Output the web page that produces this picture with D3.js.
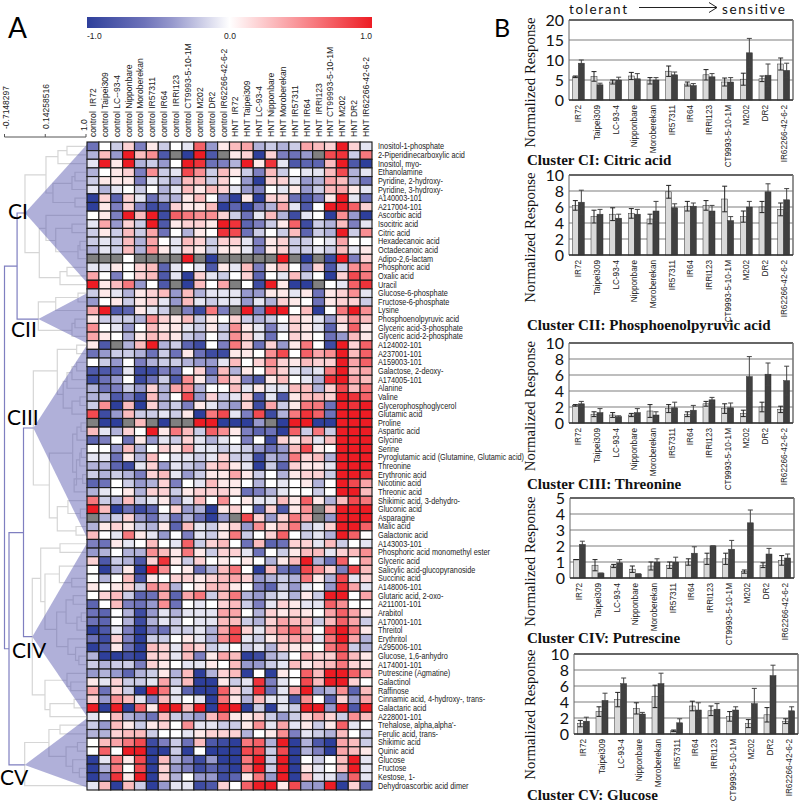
<!DOCTYPE html>
<html><head><meta charset="utf-8">
<script src="https://cdn.jsdelivr.net/npm/d3@7/dist/d3.min.js"></script>
<style>html,body{margin:0;padding:0;background:#fff}svg{display:block}text{white-space:pre}</style>
</head><body><svg id="c" width="800" height="802"></svg>
<script>
const G = null;
const columnLabels = ["control  IR72","control Taipei309","control LC--93-4","control Nipponbare","control Moroberekan","control IR57311","control IR64","control  IRRI123","control CT9993-5-10-1M","control M202","control DR2","control IR62266-42-6-2","HNT  IR72","HNT Taipei309","HNT LC-93-4","HNT Nipponbare","HNT Moroberekan","HNT IR57311","HNT IR64","HNT  IRRI123","HNT CT99993-5-10-1M","HNT M202","HNT DR2","HNT IR62266-42-6-2"];
const rowLabels = ["Inositol-1-phosphate","2-Piperidinecarboxylic acid","Inositol, myo-","Ethanolamine","Pyridine, 2-hydroxy-","Pyridine, 3-hydroxy-","A140003-101","A217004-101","Ascorbic acid","Isocitric acid","Citric acid","Hexadecanoic acid","Octadecanoic acid","Adipo-2,6-lactam","Phosphoric acid","Oxalic acid","Uracil","Glucose-6-phosphate","Fructose-6-phosphate","Lysine","Phosphoenolpyruvic acid","Glyceric acid-3-phosphate","Glyceric acid-2-phosphate","A124002-101","A237001-101","A159003-101","Galactose, 2-deoxy-","A174005-101","Alanine","Valine","Glycerophosphoglycerol","Glutamic acid","Proline","Aspartic acid","Glycine","Serine","Pyroglutamic acid (Glutamine, Glutamic acid)","Threonine","Erythronic acid","Nicotinic acid","Threonic acid","Shikimic acid, 3-dehydro-","Gluconic acid","Asparagine","Malic acid","Galactonic acid","A143003-101","Phosphoric acid monomethyl ester","Glyceric acid","Salicylic acid-glucopyranoside","Succinic acid","A148006-101","Glutaric acid, 2-oxo-","A211001-101","Arabitol","A170001-101","Threitol","Erythritol","A295006-101","Glucose, 1,6-anhydro","A174001-101","Putrescine (Agmatine)","Galactinol","Raffinose","Cinnamic acid, 4-hydroxy-, trans-","Galactaric acid","A228001-101","Trehalose, alpha,alpha'-","Ferulic acid, trans-","Shikimic acid","Quinic acid","Glucose","Fructose","Kestose, 1-","Dehydroascorbic acid dimer"];
// heat values in tenths, -10..10; G = missing (grey)
const heatRows = [
[-6,0,-2,2,-5,1,-2,0,-1,7,-4,1,3,4,-3,-2,-3,-2,4,3,2,10,2,-1],
[-3,3,-4,10,3,5,-8,G,-10,10,-8,G,1,2,-10,2,-5,-6,-4,G,8,9,-2,6],
[-1,10,1,10,-3,-2,-4,0,10,9,-6,-5,-3,10,1,9,-1,-8,-7,-7,3,10,-8,-10],
[-3,0,1,2,-5,5,-2,-1,8,5,-2,3,1,-2,-5,3,-2,0,-1,-1,3,8,-3,-1],
[-2,1,1,1,-5,-1,-2,-3,3,3,-2,2,0,-4,-10,2,2,-1,-4,-3,4,3,-3,-6],
[-1,-3,-1,0,-2,0,-3,-1,3,1,3,2,-1,-4,-5,0,-1,1,-4,-2,3,4,1,-1],
[-10,2,-7,2,-1,-6,-3,-3,1,3,0,-5,-10,1,-10,2,2,-6,-8,-5,1,10,-1,-6],
[-10,1,-5,2,-5,-9,-8,2,1,1,3,-10,-7,-10,-5,-3,4,-1,-8,0,10,10,7,2],
[0,1,-5,10,3,10,-9,7,6,5,5,2,-2,-6,-1,3,-3,-9,-1,0,-10,5,-4,-10],
[-1,4,-4,2,-2,10,-8,1,2,2,1,10,9,-7,-5,-2,1,7,-9,-2,-3,3,-5,-1],
[-2,1,-2,3,-2,4,-6,0,-3,1,0,9,8,-6,-2,0,-2,3,-7,-2,-3,10,-2,5],
[-2,-1,-2,3,-3,4,0,-1,3,2,-2,2,2,-1,-5,1,2,-2,-2,0,-1,4,0,0],
[-3,-1,-2,3,-3,5,1,-1,2,1,-2,1,1,-1,-5,1,2,-2,-2,-1,-2,3,-1,1],
[G,G,G,0,G,G,G,G,10,G,-10,G,G,G,G,G,10,G,-10,G,-9,10,-5,2],
[-1,-1,1,0,2,3,-7,-1,0,-1,-8,1,-1,3,-5,1,3,0,-5,2,-8,-2,5,5],
[4,0,-5,0,2,3,-8,-1,-10,2,-1,-2,0,2,-7,0,-1,3,-2,0,-10,2,8,6],
[10,1,3,6,-4,0,-8,G,-10,3,0,4,G,0,-9,10,1,-10,-10,G,0,-1,7,9],
[-2,1,-1,-3,1,2,3,-4,3,-3,-1,-1,-1,-4,-4,1,1,-1,1,-6,1,2,5,-1],
[-4,0,1,-2,1,2,-1,-4,3,-1,-2,-1,-1,-4,-1,-3,2,1,0,-6,1,2,2,-2],
[4,10,-8,-7,1,-1,-2,G,-5,-9,6,-5,G,10,-5,10,10,0,3,-10,0,6,10,5],
[1,-2,-2,-2,-3,5,2,1,3,-2,1,0,2,-2,-3,-2,0,2,1,-1,-4,2,5,3],
[5,0,-1,-4,0,3,1,1,-1,-2,1,-2,5,1,-1,-5,-1,2,1,-1,-7,1,7,1],
[4,1,0,-3,1,3,2,1,-2,-3,0,-2,5,2,-1,-6,0,2,1,0,-6,-4,3,1],
[1,-8,G,-3,3,10,-3,-2,-7,-9,0,-5,6,2,-6,2,-4,1,6,0,-9,10,2,7],
[-6,-4,-2,-2,-3,-6,-2,-6,1,-6,-9,-9,1,1,0,5,8,0,7,4,5,10,3,7],
[0,-2,-4,0,-5,-3,-2,-2,-3,-4,-4,-1,3,0,2,5,2,1,3,2,2,10,4,7],
[-8,-8,-7,-1,-9,-9,-5,-6,0,2,-6,3,-3,1,0,4,2,-1,-2,-1,6,10,3,4],
[-9,-6,-4,0,-9,-6,-2,-8,5,1,-4,4,2,-5,-8,1,3,0,-1,-3,9,10,4,3],
[-3,-6,-5,-2,-4,2,-3,4,5,-3,0,0,3,-1,1,-1,-1,3,3,-3,2,8,3,6],
[-3,-3,-8,-5,-9,3,-3,0,8,-4,2,-2,-1,2,-8,-1,-8,1,3,3,2,10,9,7],
[-2,5,-10,3,-10,2,-3,-2,-5,1,-1,-3,-4,2,-9,4,-2,1,6,6,-6,10,9,10],
[8,-9,-4,3,-2,-2,-1,-2,1,-10,6,8,-1,-5,8,-9,-3,6,9,7,-6,10,10,10],
[G,-10,-10,G,3,G,-10,G,G,10,10,-10,-10,-10,-4,G,-10,10,10,-10,-10,10,10,10],
[3,-1,-3,2,0,10,1,6,3,-2,7,5,1,-5,-7,-6,-10,7,-2,6,-2,10,10,10],
[-7,-5,0,-6,1,-4,-1,-2,2,-1,-3,-1,0,-5,0,-9,2,1,3,-1,3,10,10,10],
[0,0,-4,3,-3,0,2,1,4,-1,-1,-2,-1,-2,-4,-6,-4,3,8,1,0,10,10,10],
[-1,-1,-6,1,-3,3,0,-1,-1,-2,-1,2,-2,-2,-9,-3,-4,6,2,3,-3,10,10,10],
[-3,-3,-7,-9,-1,2,-4,-1,-2,-3,2,3,1,-1,-10,-2,-7,2,1,1,-1,10,10,10],
[-2,-3,-2,-3,-5,2,3,-1,-4,-2,1,1,4,1,-2,0,-3,1,2,2,-2,10,10,9],
[-7,-6,0,-2,-4,-3,2,-5,0,-1,3,1,1,0,-3,0,-1,0,1,-3,0,10,8,4],
[-3,-1,0,1,-3,2,2,-2,1,2,2,2,1,-6,-5,-3,-1,0,0,-2,0,10,10,3],
[6,-2,-3,3,-2,-1,1,-4,-1,3,0,5,0,1,-1,-1,3,1,7,1,-3,3,8,6],
[10,3,-10,-6,-9,-7,0,2,-4,-3,-10,1,2,0,-7,2,-8,1,5,G,3,10,10,10],
[G,-3,-2,2,-4,-6,-2,-6,-3,-6,-10,-4,G,8,2,-4,2,6,4,G,-4,10,10,10],
[-3,1,2,1,-2,-3,1,-7,3,-1,-2,1,2,-4,5,1,3,6,-2,-1,2,10,10,7],
[3,0,-1,6,1,-1,-4,0,-5,-1,-2,1,6,-2,0,2,7,0,-2,-1,-3,10,7,0],
[-5,-6,1,-1,0,3,0,-1,7,-2,2,3,0,-6,3,-7,-6,2,2,-1,3,-2,0,-1],
[-4,-3,0,-3,-3,5,3,1,6,1,-2,2,2,-1,-6,0,-2,1,3,3,-1,2,3,5],
[2,-8,-2,-3,-8,2,9,1,-2,2,0,1,0,1,0,-3,1,3,10,-3,-6,7,0,4],
[0,-10,-3,1,-10,10,5,0,1,-6,-3,3,6,0,-10,3,-6,-8,8,5,2,-5,8,3],
[0,-3,0,3,-8,1,0,2,2,1,2,3,4,2,-4,-3,-2,-3,6,1,-3,8,-1,2],
[1,0,1,2,-2,5,4,-3,0,1,3,3,1,0,-5,-7,-2,-4,-1,0,-4,9,4,-1],
[0,2,3,-2,-7,-6,4,-7,4,6,-2,3,6,-3,-4,-2,-1,-3,1,-2,10,10,0,4],
[-7,0,3,-5,-6,-4,5,-6,0,-1,0,2,3,-2,-5,-1,2,1,-1,-1,7,5,0,0],
[-6,-7,0,-3,-9,-4,-1,-3,-1,-1,-1,4,4,0,-3,2,1,2,1,0,4,7,4,1],
[-6,-7,0,-3,-9,-3,-1,-2,0,-1,-1,3,3,-2,-3,2,4,3,3,-2,3,7,4,-2],
[-10,-8,-1,-5,-10,-5,-6,-2,-2,-1,-3,4,8,2,-1,3,5,7,3,0,8,10,6,1],
[-6,-9,2,-5,-10,-2,-2,0,1,-1,-3,5,8,-1,-2,1,3,4,4,-1,6,10,4,-3],
[-10,-8,1,-6,-10,3,2,-1,3,2,-2,-1,0,-2,-1,-3,2,1,1,0,6,8,-2,-3],
[-3,-10,-10,-9,-10,2,2,-1,3,-5,1,4,3,-10,-9,-3,-2,0,4,2,2,7,3,1],
[-2,-3,-2,-2,-5,2,1,0,-1,-1,1,0,3,-4,-4,-2,-1,3,1,2,3,6,2,1],
[-4,-3,-4,-7,-3,-2,1,-3,3,-10,-3,2,3,-10,0,-10,1,0,7,3,10,10,7,4],
[1,-1,2,-2,-2,-1,4,-2,3,-10,-10,1,-2,-1,9,-5,-1,0,8,3,10,10,2,0],
[4,-6,2,-2,-10,10,6,-1,-7,-10,-10,7,2,-2,9,-6,-1,4,10,-4,-3,5,-7,3],
[2,-4,5,3,-1,-5,3,-1,0,-1,-10,6,1,-3,3,-1,-1,-8,5,0,-7,2,-4,4],
[10,-10,10,-10,7,1,10,10,3,10,-10,10,10,-10,-2,-10,-1,-2,10,10,-4,10,-8,10],
[-1,0,3,-3,-4,-6,3,-2,-3,-4,3,6,1,1,2,-2,-4,-2,2,4,2,-2,5,3],
[-2,-4,3,1,-2,1,2,0,5,-1,-1,-2,-2,1,5,-1,4,-1,1,-2,1,7,-1,0],
[-3,-3,2,3,3,-2,0,0,-1,1,2,2,2,-3,0,1,5,-5,-1,-2,-3,3,0,-2],
[0,3,4,6,8,-9,-5,-2,-6,3,-8,-9,-10,6,7,-3,10,-10,-3,-8,-10,4,3,-2],
[0,7,0,10,10,-10,-10,-2,-10,0,-10,-10,-10,8,8,-2,8,-10,-3,-5,-10,4,3,1],
[-10,-1,6,1,8,-10,3,-3,-5,-9,-4,-10,-10,6,10,-2,10,-10,0,-2,0,3,10,-1],
[-10,-3,6,0,8,-10,2,-4,-5,-9,-7,-9,-10,6,10,-2,10,-10,1,-1,0,3,10,-1],
[-10,-5,9,1,10,-10,2,-3,0,-4,-4,-9,-7,1,6,-4,10,-10,3,-1,-1,-4,7,-1],
[-1,3,-10,3,-2,-10,-4,-1,-1,-9,-8,2,0,7,10,10,1,8,-4,-4,10,-10,2,-7]
];
// dendrogram merges: [similarity of join, row A, similarity of A, row B, similarity of B]
const treeMerges = [
[.60,0,1,1,1],[.41,.5,.6,2,1],[.768,3,1,4,1],[.705,3.5,.768,5,1],[.768,6,1,7,1],[.305,4.3,.705,6.5,.768],[.158,1.2,.41,5.4,.305],
[.705,9,1,10,1],[.873,11,1,12,1],[.832,11.5,.873,13,1],[.363,9.5,.705,12.2,.832],[.158,8,1,10.9,.363],[.6,14,1,15,1],[.453,14.5,.6,16,1],[.017,9.5,.158,15.2,.453],[-.284,3.3,.158,12.3,.017],
[.832,17,1,18,1],[.363,17.5,.832,19,1],[.768,20,1,21,1],[.705,20.5,.768,22,1],[-.003,18,.363,21.3,.705],
[.804,23,1,24,1],[.804,25,1,26,1],[.705,25.5,.804,27,1],[.6,26.2,.705,28,1],[.873,29,1,30,1],[.705,29.5,.873,31,1],[.52,27.2,.6,30.3,.705],[.396,23.5,.804,28.7,.52],
[.895,32,1,33,1],[.81,32.5,.895,34,1],[.9,35,1,36,1],[.87,35.5,.9,37,1],[.93,38,1,39,1],[.75,38.5,.93,40,1],[.8,36.3,.87,39.2,.75],[.72,33.3,.81,37.7,.8],
[.88,42,1,43,1],[.62,41,1,42.5,.88],[.79,44,1,45,1],[.396,41.7,.62,44.5,.79],[.228,35.5,.72,43,.396],[-.108,26,.396,39.2,.228],
[.453,46,1,47,1],[.7,50,1,51,1],[.44,48.6,1,50.5,.7],[.73,52,1,53,1],[.9,54,1,55,1],[.81,54.5,.9,56,1],[.58,52.5,.73,55.2,.81],[.85,59,1,60,1],[.78,58,1,59.5,.85],[.62,57,1,58.8,.78],[.383,53.9,.58,57.9,.62],[.137,49.5,.44,55.9,.383],[.047,46.5,.453,52.7,.137],
[.68,62,1,63,1],[.6,61,1,62.5,.68],[.75,64,1,65,1],[.242,64.5,.75,66,1],[.137,61.8,.6,65.2,.242],[-.13,50,.047,63.5,.137],
[.453,67,1,68,1],[.82,69,1,70,1],[.86,72,1,73,1],[.72,71,1,72.5,.86],[.58,69.5,.82,71.75,.72],[.22,67.5,.453,70.6,.58],[-.29,69,.22,74,1]
];
const trunkMerges = [[-.45,7.72,-.284,20,-.003],[-.315,32.6,-.108,56.75,-.13],[-.62,44.7,-.315,71.6,-.29],[-.7148,13.86,-.45,58.15,-.62]];
const clusterNames = ["CI","CII","CIII","CIV","CV"];
const clusterApex = [[-.284,7.72],[-.003,20],[-.108,32.6],[-.13,56.75],[-.29,71.6]];
const clusterSpan = [[-.2,15.8],[17,22.8],[23,45.3],[45.9,66],[66.2,74.2]];
const scaleTicks = [-0.7148297,0.14258516,1.0];
const scaleTickLabels = ["-0.7148297","0.14258516","1.0"];

const cultivars = ["IR72","Taipei309","LC-93-4","Nipponbare","Moroberekan","IR57311","IR64","IRRI123","CT9993-5-10-1M","M202","DR2","IR62266-42-6-2"];
const citricCtl = [5.8,5.9,4.5,6,4.8,7.2,4,6.3,4.5,5.2,5.3,9];
const citricCtlErr = [.2,1.2,.5,.9,.8,1.3,.5,1.3,1,1.5,.7,1.5];
const citricHnt = [9.2,3.8,5,5.3,5,6.3,3.6,5.8,4.5,11.8,6.2,7.4];
const citricHntErr = [.8,.4,.7,1.3,.6,.7,.5,.8,1.1,3.6,2.8,1.8];
const pepCtl = [6.2,4.8,5.1,5.2,4.5,7.9,6.1,6.2,7,4.8,6,5.7];
const pepCtlErr = [.6,.8,.8,.6,.6,.8,.6,.6,1.6,.7,.7,.8];
const pepHnt = [6.6,5.1,4.6,5.1,5.5,5.9,6.1,5.5,4.3,6,7.9,6.9];
const pepHntErr = [1.5,.6,.5,.6,1.2,.5,.4,.7,.5,.7,1,1.4];
const thrCtl = [2.2,1.1,1,1,1.5,1.8,1.1,2.4,1.8,1.2,2,1.7];
const thrCtlErr = [.1,.3,.3,.2,.8,.5,.3,.3,.6,.4,.6,.4];
const thrHnt = [2.4,1.3,.8,1.3,1,1.9,1.6,2.9,1.9,5.8,6.1,5.3];
const thrHntErr = [.3,.5,.1,.5,.4,.7,.6,.3,.6,2.5,1.4,1.8];
const putCtl = [1.15,.8,.75,.55,.75,.8,1,1.2,1.2,.4,.8,1.1];
const putCtlErr = [0,.35,.1,.2,.25,.2,.2,.35,.35,.1,.15,.3];
const putHnt = [2.1,.3,.95,.25,1,1,1.55,2,1.8,3.45,1.5,1.25];
const putHntErr = [.2,0,.2,0,.2,.3,.4,0,.55,.8,.35,.25];
const gluCtl = [1.3,2.8,4.3,3.2,4.7,.4,3.5,2.9,2.2,1.3,2.4,1.6];
const gluCtlErr = [.4,.6,.9,.7,1.4,.1,.6,.6,.6,.5,.9,.3];
const gluHnt = [1.6,4.2,6.3,2.5,6.3,1.4,3,3.1,3,3.8,7.3,2.9];
const gluHntErr = [.5,.9,.7,.2,1.3,.5,.9,.7,.4,1.9,1.3,.5];
const yTicks20 = [0,5,10,15,20], yTicks10 = [0,2,4,6,8,10], yTicks5 = [0,1,2,3,4,5];

const panels = [
 {title:"Cluster CI: Citric acid",ctl:citricCtl,ce:citricCtlErr,hnt:citricHnt,he:citricHntErr,ticks:yTicks20,x0:569,top:20,ty:165,lab:[17,148]},
 {title:"Cluster CII: Phosphoenolpyruvic acid",ctl:pepCtl,ce:pepCtlErr,hnt:pepHnt,he:pepHntErr,ticks:yTicks10,x0:569,top:175,ty:330,lab:[172,303]},
 {title:"Cluster CIII: Threonine",ctl:thrCtl,ce:thrCtlErr,hnt:thrHnt,he:thrHntErr,ticks:yTicks10,x0:569,top:343,ty:489,lab:[340,472]},
 {title:"Cluster CIV: Putrescine",ctl:putCtl,ce:putCtlErr,hnt:putHnt,he:putHntErr,ticks:yTicks5,x0:570,top:498,ty:643,lab:[496,627]},
 {title:"Cluster CV: Glucose",ctl:gluCtl,ce:gluCtlErr,hnt:gluHnt,he:gluHntErr,ticks:yTicks10,x0:574,top:654,ty:800,lab:[649,780]}
];

const svg = d3.select("#c");
const SANS = "'Liberation Sans',Arial,sans-serif", SERIF = "'Liberation Serif',serif", HUM = "Lato,'Open Sans',sans-serif";
// ---- heat map
const hx = d3.scaleBand().domain(d3.range(24)).range([87,372]);
const hy = d3.scaleBand().domain(d3.range(75)).range([142,790]);
const heatColor = d3.scaleLinear().domain([-10,-5,0,5,10]).range(["#2e3f9b","#7d7fc0","#ffffff","#f98f93","#ed1c24"]);
const dx = d3.scaleLinear().domain([-0.7148297,1]).range([4.5,86]);
const dy = r => 142 + hy.step()*(r+.5);

// dendrogram
const link = d3.line().x(d=>dx(d[0])).y(d=>dy(d[1]));
const drawMerges = (list,color,w) => svg.append("g").selectAll("path").data(list).join("path")
  .attr("d",m=>link([[m[2],m[1]],[m[0],m[1]],[m[0],m[3]],[m[4],m[3]]]))
  .attr("fill","none").attr("stroke",color).attr("stroke-width",w);
drawMerges(treeMerges,"#d6d6d6",1.2);
svg.append("g").selectAll("path").data(clusterApex).join("path")
  .attr("d",(a,i)=>`M${dx(a[0])},${dy(a[1])}L87,${dy(clusterSpan[i][0])}L87,${dy(clusterSpan[i][1])}Z`)
  .attr("fill","#5a5ab0").attr("fill-opacity",.48);
drawMerges(trunkMerges,"#7f7fc0",1.2);

// scale bar
const scaleG = svg.append("g").attr("stroke","#555");
scaleG.append("path").attr("d",`M${dx(scaleTicks[0])},137V134M${dx(scaleTicks[0])},137H${dx(1)}V134M${dx(scaleTicks[1])},137V134`).attr("fill","none");
svg.append("g").selectAll("text").data(scaleTickLabels).join("text")
  .attr("transform",(t,i)=>`translate(${dx(scaleTicks[i])+[4.5,4,1][i]},${[129,129,131][i]}) rotate(-90)`)
  .attr("font-family",SANS).attr("font-size",8.5).attr("fill","#222").text(t=>t);

// cells
svg.append("g").selectAll("g").data(heatRows).join("g").attr("transform",(r,i)=>`translate(0,${hy(i)})`)
  .selectAll("rect").data(r=>r).join("rect")
  .attr("x",(v,i)=>hx(i)).attr("width",hx.bandwidth()).attr("height",hy.bandwidth())
  .attr("fill",v=>v===G?"#808080":heatColor(v)).attr("stroke","#1c1c1c").attr("stroke-width",1.15);

// cluster labels
const clusterLabelPos = [[8,219],[11,337],[7,425],[12,658],[0,785]];
svg.append("g").selectAll("text").data(clusterNames).join("text")
  .attr("x",(n,i)=>clusterLabelPos[i][0]).attr("y",(n,i)=>clusterLabelPos[i][1])
  .attr("font-family",HUM).attr("font-size",21).attr("fill","#000").text(n=>n);

// colour bar
const defs = svg.append("defs");
const grad = defs.append("linearGradient").attr("id","cb");
grad.selectAll("stop").data(d3.range(0,1.001,.1)).join("stop")
  .attr("offset",d=>d).attr("stop-color",d=>heatColor(-10+20*d));
svg.append("rect").attr("x",87).attr("y",17).attr("width",285).attr("height",11).attr("fill","url(#cb)");
svg.append("g").selectAll("text").data(["-1.0","0.0","1.0"]).join("text")
  .attr("x",(t,i)=>[87,230,372][i]).attr("y",39).attr("text-anchor",(t,i)=>["start","middle","end"][i])
  .attr("font-family",SANS).attr("font-size",8.5).attr("fill","#222").text(t=>t);
// column labels
svg.append("g").selectAll("text").data(columnLabels).join("text")
  .attr("transform",(t,i)=>`translate(${hx(i)+hx.bandwidth()/2+3},137) rotate(-90)`)
  .attr("font-family",SANS).attr("font-size",8.6).attr("fill","#222").text(t=>t);
// row labels
svg.append("g").selectAll("text").data(rowLabels).join("text")
  .attr("transform",(t,i)=>`translate(378,${dy(i)+3}) scale(.85,1)`)
  .attr("font-family",SANS).attr("font-size",8.6).attr("fill","#222").text(t=>t);

// panel letters
svg.append("text").attr("x",8).attr("y",38).attr("font-family",HUM).attr("font-size",28).text("A");
svg.append("text").attr("x",494).attr("y",37).attr("font-family",HUM).attr("font-size",25).text("B");
// tolerant -> sensitive
svg.append("text").attr("x",569).attr("y",13.5).attr("font-family",HUM).attr("font-size",13.5).attr("textLength",58).attr("lengthAdjust","spacing").attr("fill","#111").text("tolerant");
svg.append("text").attr("x",722).attr("y",13.5).attr("font-family",HUM).attr("font-size",13.5).attr("textLength",63).attr("lengthAdjust","spacing").attr("fill","#111").text("sensitive");
svg.append("path").attr("d","M639,7.5H717M709,2.5L717,7.5L709,12.5").attr("fill","none").attr("stroke","#222").attr("stroke-width",1);

// bar panels
panels.forEach(p=>{
  const W=224,H=80;
  const g=svg.append("g").attr("transform",`translate(${p.x0},${p.top})`);
  const x=d3.scaleBand().domain(cultivars).range([0,W]);
  const y=d3.scaleLinear().domain([0,d3.max(p.ticks)]).range([H,0]);
  g.append("g").selectAll("line").data(p.ticks).join("line")
    .attr("x1",0).attr("x2",W).attr("y1",y).attr("y2",y)
    .attr("stroke",t=>t==d3.max(p.ticks)?"#333":"#a8a8a8").attr("stroke-width",1.4);
  g.append("line").attr("x1",W).attr("x2",W).attr("y1",0).attr("y2",H).attr("stroke","#777").attr("stroke-width",1.6);
  g.append("line").attr("x1",0).attr("x2",0).attr("y1",0).attr("y2",H).attr("stroke","#666");
  const series=[{v:p.ctl,e:p.ce,f:"#d9d9d9",o:-6},{v:p.hnt,e:p.he,f:"#404040",o:0}];
  series.forEach(s=>{
    const b=g.append("g");
    cultivars.forEach((c,i)=>{
      const cx=x(c)+x.bandwidth()/2+s.o;
      b.append("rect").attr("x",cx).attr("width",6).attr("y",y(s.v[i])).attr("height",H-y(s.v[i]))
       .attr("fill",s.f).attr("stroke","#333").attr("stroke-width",.5);
      const m=cx+3,hi=y(s.v[i]+s.e[i]),lo=y(Math.max(0,s.v[i]-s.e[i]));
      b.append("path").attr("d",`M${m-2.5},${hi}H${m+2.5}M${m},${hi}V${lo}M${m-2.5},${lo}H${m+2.5}`)
       .attr("fill","none").attr("stroke",s.o?"#222":"#444").attr("stroke-width",1);
    });
  });
  g.append("line").attr("x1",0).attr("x2",W).attr("y1",H).attr("y2",H).attr("stroke","#333").attr("stroke-width",1.4);
  const ax=g.append("g").call(d3.axisLeft(y).tickValues(p.ticks).tickSize(0).tickPadding(5).tickFormat(d3.format("d")));
  ax.select(".domain").remove();
  ax.selectAll("text").attr("font-family",HUM).attr("font-size",16).attr("fill","#111");
  g.append("g").selectAll("text").data(cultivars).join("text")
   .attr("transform",c=>`translate(${x(c)+x.bandwidth()/2+3},${H+5}) rotate(-90)`)
   .attr("text-anchor","end").attr("font-family",SANS).attr("font-size",8.2).attr("fill","#222").text(c=>c);
  svg.append("text").attr("transform",`translate(535,${(p.lab[0]+p.lab[1])/2}) rotate(-90)`)
   .attr("text-anchor","middle").attr("font-family",SERIF).attr("font-size",14.8).attr("fill","#111").text("Normalized Response");
  svg.append("text").attr("x",527).attr("y",p.ty).attr("font-family",SERIF).attr("font-weight","bold").attr("font-size",15).attr("fill","#111").text(p.title);
});
</script></body></html>
